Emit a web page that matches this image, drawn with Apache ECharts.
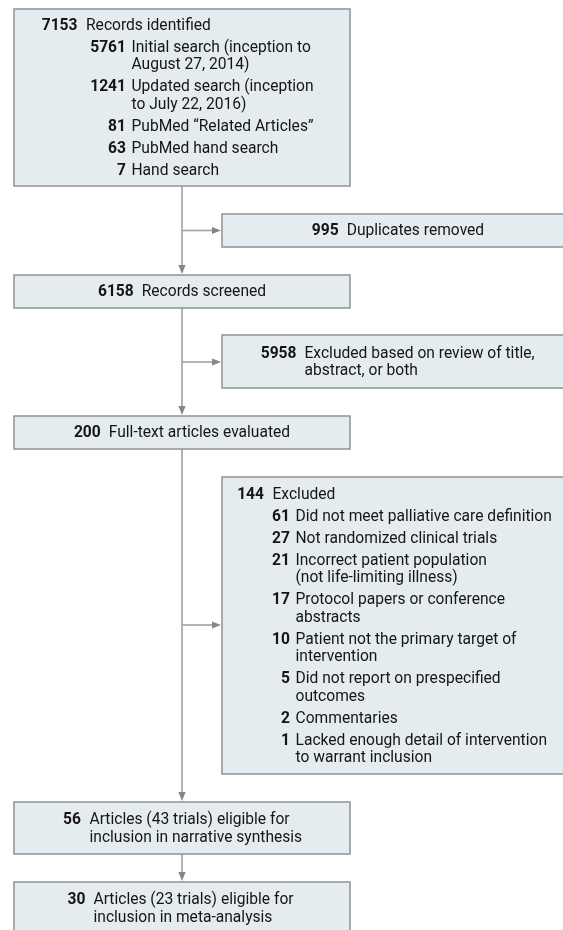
<!DOCTYPE html>
<html>
<head>
<meta charset="utf-8">
<script src="https://cdn.jsdelivr.net/npm/echarts@6/dist/echarts.min.js"></script>
<style>
html,body{margin:0;padding:0;background:#ffffff;}
#chart{width:563px;height:930px;}
</style>
</head>
<body>
<div id="chart"></div>
<script>
// ---------------- data ----------------
const identifiedCount = 7153;
const identifiedLabel = "Records identified";
const sourceCounts = [5761, 1241, 81, 63, 7];
const sourceLabels = [
  ["Initial search (inception to", "August 27, 2014)"],
  ["Updated search (inception", "to July 22, 2016)"],
  ["PubMed \u201CRelated Articles\u201D"],
  ["PubMed hand search"],
  ["Hand search"]
];
const duplicatesCount = 995;
const duplicatesLabel = "Duplicates removed";
const screenedCount = 6158;
const screenedLabel = "Records screened";
const titleExcludedCount = 5958;
const titleExcludedLabel = ["Excluded based on review of title,", "abstract, or both"];
const fullTextCount = 200;
const fullTextLabel = "Full-text articles evaluated";
const fullTextExcludedCount = 144;
const fullTextExcludedLabel = "Excluded";
const reasonCounts = [61, 27, 21, 17, 10, 5, 2, 1];
const reasonLabels = [
  ["Did not meet palliative care definition"],
  ["Not randomized clinical trials"],
  ["Incorrect patient population", "(not life-limiting illness)"],
  ["Protocol papers or conference", "abstracts"],
  ["Patient not the primary target of", "intervention"],
  ["Did not report on prespecified", "outcomes"],
  ["Commentaries"],
  ["Lacked enough detail of intervention", "to warrant inclusion"]
];
const narrativeCount = 56;
const narrativeLabel = ["Articles (43 trials) eligible for", "inclusion in narrative synthesis"];
const metaCount = 30;
const metaLabel = ["Articles (23 trials) eligible for", "inclusion in meta-analysis"];

// ---------------- layout & style ----------------
const FONT = 'Roboto';
const FS = 15.6;
const FILL = '#e4ecf0';
const BORDER = '#8f9395';
const TEXT = '#161414';
const LINE = '#a0a0a0';
const ARROW = '#878787';
const STEP = 22, CONT = 17.5;
const TEXT_DY = 1;

function listTexts(mainCount, mainLabel, subCounts, subLabels, g) {
  const t = [];
  let y = g.y0;
  t.push({x: g.mainNumR, y: y, text: String(mainCount), bold: true, align: 'right'});
  t.push({x: g.mainLabX, y: y, text: mainLabel, bold: false, align: 'left'});
  subCounts.forEach((c, i) => {
    y += STEP;
    t.push({x: g.subNumR, y: y, text: String(c), bold: true, align: 'right'});
    subLabels[i].forEach((ln, j) => {
      if (j > 0) y += CONT;
      t.push({x: g.subLabX, y: y, text: ln, bold: false, align: 'left'});
    });
  });
  return t;
}
function twoLineTexts(count, lines, g) {
  const t = [{x: g.numR, y: g.y0, text: String(count), bold: true, align: 'right'}];
  lines.forEach((ln, j) => t.push({x: g.labX, y: g.y0 + j * CONT, text: ln, bold: false, align: 'left'}));
  return t;
}
function centeredTexts(count, label, cx, y) {
  return [{x: cx, y: y, rich: true, text: '{n|' + count + '}{t|' + label + '}', align: 'center'}];
}

const boxes = [
  {rect: [14, 9, 350, 186],
   texts: listTexts(identifiedCount, identifiedLabel, sourceCounts, sourceLabels,
     {y0: 25, mainNumR: 77.5, mainLabX: 86, subNumR: 126, subLabX: 131.5})},
  {rect: [222, 214, 576, 247], texts: centeredTexts(duplicatesCount, duplicatesLabel, 398, 230.5)},
  {rect: [14, 275, 350, 308], texts: centeredTexts(screenedCount, screenedLabel, 182, 291.5)},
  {rect: [222, 335, 576, 388],
   texts: twoLineTexts(titleExcludedCount, titleExcludedLabel, {numR: 296.5, labX: 304.5, y0: 353})},
  {rect: [14, 416, 350, 449], texts: centeredTexts(fullTextCount, fullTextLabel, 182, 432.5)},
  {rect: [222, 477, 576, 774],
   texts: listTexts(fullTextExcludedCount, fullTextExcludedLabel, reasonCounts, reasonLabels,
     {y0: 494, mainNumR: 264, mainLabX: 272.5, subNumR: 290, subLabX: 295.5})},
  {rect: [14, 802, 350, 854],
   texts: twoLineTexts(narrativeCount, narrativeLabel, {numR: 81, labX: 89.5, y0: 819.5})},
  {rect: [14, 882, 350, 940],
   texts: twoLineTexts(metaCount, metaLabel, {numR: 85.5, labX: 93.5, y0: 899.5})}
];

// connectors: [x1, y1, x2, y2, arrowAtEnd]
const connectors = [
  [182, 186, 182, 274, true],
  [182, 230.5, 221, 230.5, true],
  [182, 308, 182, 415, true],
  [182, 362, 221, 362, true],
  [182, 449, 182, 801, true],
  [182, 625, 221, 625, true],
  [182, 854, 182, 881, true]
];

const chart = echarts.init(document.getElementById('chart'), null, {renderer: 'canvas'});

function boxItem(params, api) {
  const b = boxes[api.value(0)];
  const p0 = api.coord([b.rect[0], b.rect[1]]);
  const p1 = api.coord([b.rect[2], b.rect[3]]);
  const children = [{
    type: 'rect',
    shape: {x: p0[0], y: p0[1], width: p1[0] - p0[0], height: p1[1] - p0[1]},
    style: {fill: FILL, stroke: BORDER, lineWidth: 1.5}
  }];
  b.texts.forEach(t => {
    const p = api.coord([t.x, t.y + TEXT_DY]);
    const style = {
      text: t.text, x: p[0], y: p[1], fill: TEXT,
      fontFamily: FONT, fontSize: FS, fontWeight: t.bold ? 'bold' : 'normal',
      align: t.align, verticalAlign: 'middle'
    };
    if (t.rich) {
      style.rich = {
        n: {fontFamily: FONT, fontSize: FS, fontWeight: 'bold', fill: TEXT, padding: [0, 8, 0, 0]},
        t: {fontFamily: FONT, fontSize: FS, fontWeight: 'normal', fill: TEXT}
      };
    }
    children.push({type: 'text', style: style});
  });
  return {type: 'group', children: children};
}

function connectorItem(params, api) {
  const c = connectors[api.value(0)];
  const a = api.coord([c[0], c[1]]);
  const b = api.coord([c[2], c[3]]);
  const dx = b[0] - a[0], dy = b[1] - a[1];
  const len = Math.sqrt(dx * dx + dy * dy);
  const ux = dx / len, uy = dy / len;
  const L = 9, W = 3.6;
  const base = [b[0] - ux * L, b[1] - uy * L];
  const children = [{
    type: 'line',
    shape: {x1: a[0], y1: a[1], x2: base[0], y2: base[1]},
    style: {stroke: LINE, lineWidth: 1.6}
  }];
  if (c[4]) {
    children.push({
      type: 'polygon',
      shape: {points: [[b[0], b[1]], [base[0] - uy * W, base[1] + ux * W], [base[0] + uy * W, base[1] - ux * W]]},
      style: {fill: ARROW}
    });
  }
  return {type: 'group', children: children};
}

chart.setOption({
  animation: false,
  grid: {left: 0, right: 0, top: 0, bottom: 0},
  xAxis: {type: 'value', min: 0, max: 563, show: false},
  yAxis: {type: 'value', min: 0, max: 930, inverse: true, show: false},
  series: [
    {type: 'custom', silent: true, clip: false, renderItem: connectorItem,
     data: connectors.map((c, i) => [i, 0]), encode: {x: 0, y: 1}},
    {type: 'custom', silent: true, clip: false, renderItem: boxItem,
     data: boxes.map((b, i) => [i, 0]), encode: {x: 0, y: 1}}
  ]
});
</script>
</body>
</html>
